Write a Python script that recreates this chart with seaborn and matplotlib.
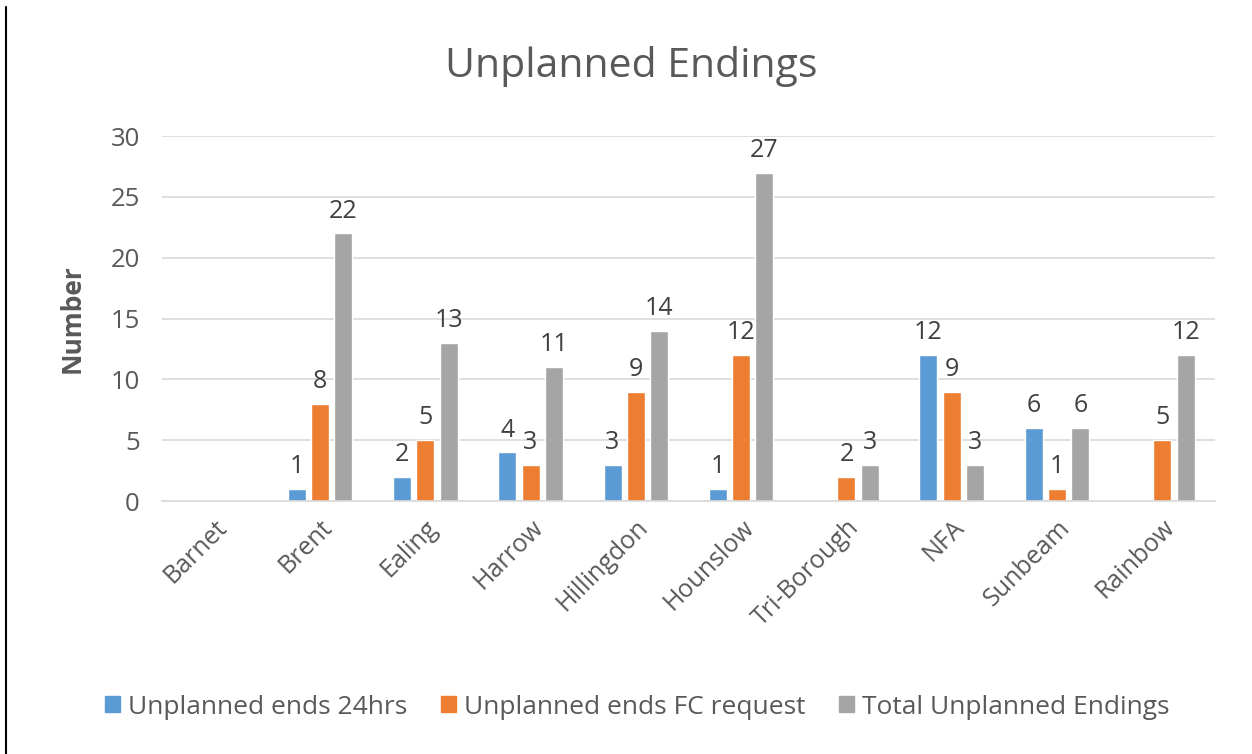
import numpy as np
import pandas as pd
import matplotlib
matplotlib.use("Agg")
import matplotlib.pyplot as plt
import seaborn as sns
from matplotlib.lines import Line2D

categories = ["Barnet", "Brent", "Ealing", "Harrow", "Hillingdon", "Hounslow",
              "Tri-Borough", "NFA", "Sunbeam", "Rainbow"]
series_names = ["Unplanned ends 24hrs", "Unplanned ends FC request", "Total Unplanned Endings"]
ends_24hrs = [np.nan, 1, 2, 4, 3, 1, np.nan, 12, 6, np.nan]
ends_fc_request = [np.nan, 8, 5, 3, 9, 12, 2, 9, 1, 5]
total_unplanned = [np.nan, 22, 13, 11, 14, 27, 3, 3, 6, 12]
colors = ["#5B9BD5", "#ED7D31", "#A5A5A5"]

rows = []
for name, vals in zip(series_names, [ends_24hrs, ends_fc_request, total_unplanned]):
    for c, v in zip(categories, vals):
        rows.append({"Borough": c, "Series": name, "Value": v})
df = pd.DataFrame(rows)

sns.set_style("white")
plt.rcParams['font.family'] = ['Open Sans', 'DejaVu Sans']
txt = "#595959"

fig = plt.figure(figsize=(12.52, 7.54), dpi=100)
ax = fig.add_axes([162/1252, 0.3355, 1053/1252, 0.4841])

sns.barplot(data=df, x="Borough", y="Value", hue="Series", order=categories,
            hue_order=series_names, palette=colors, width=0.664, gap=0.226,
            ax=ax, legend=False, saturation=1)

for cont in ax.containers:
    labels = ["" if np.isnan(b.get_height()) else f"{int(b.get_height())}" for b in cont]
    ax.bar_label(cont, labels=labels, padding=7, fontsize=18, color="#404040")

ax.set_ylim(0, 30)
ax.set_yticks([0, 5, 10, 15, 20, 25, 30])
ax.set_xlim(-0.5, 9.5)
ax.yaxis.grid(True, color="#D9D9D9", linewidth=1.2)
ax.set_axisbelow(True)
for s in ["top", "right", "left"]:
    ax.spines[s].set_visible(False)
ax.spines["bottom"].set_color("#D9D9D9")
ax.spines["bottom"].set_linewidth(1.2)
ax.tick_params(axis="y", length=0, labelsize=18.5, colors=txt, pad=16)
ax.tick_params(axis="x", length=0, labelsize=18, colors=txt, pad=10)
plt.setp(ax.get_xticklabels(), rotation=45, ha="right", rotation_mode="anchor")
ax.set_xlabel("")
ax.set_ylabel("Number", fontsize=19, fontweight="bold", color=txt, labelpad=18)
fig.text(0.504, 0.912, "Unplanned Endings", ha="center", va="center", fontsize=29.5, color=txt)

handles = [plt.Rectangle((0, 0), 1, 1, color=c) for c in colors]
fig.legend(handles, series_names, loc="center", bbox_to_anchor=(0.509, 0.062), ncol=3,
           frameon=False, fontsize=19, labelcolor=txt, handlelength=0.55, handleheight=0.55,
           handletextpad=0.3, columnspacing=1.3)

fig.add_artist(Line2D([6/1252, 6/1252], [0, 1 - 7/754], color="black", linewidth=1.5,
                      transform=fig.transFigure))

fig.savefig("out.png", dpi=100)
